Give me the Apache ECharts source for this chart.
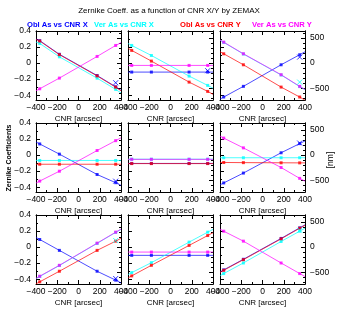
<!DOCTYPE html>
<html><head><meta charset="utf-8">
<script src="https://cdn.jsdelivr.net/npm/echarts@6/dist/echarts.min.js"></script>
<style>html,body{margin:0;padding:0;background:#fff}#c{width:338px;height:310px}</style>
</head><body><div id="c"></div>
<script>
// CNR positions: first and last are the panel edges where the fitted lines end
const cnr = [-400, -365, -180, 175, 350, 400];
const extraCnr = 350;
const xTicks = [-400, -200, 0, 200, 400];
const yTicks = [-0.4, -0.2, 0, 0.2, 0.4];
const yMinor = [-0.3, -0.1, 0.1, 0.3];
const nmTicks = [-500, 0, 500];
const nmMinor = [-700, -600, -400, -300, -200, -100, 100, 200, 300, 400, 600];
const legendNames = ['Obl As vs CNR X', 'Ver As vs CNR X', 'Obl As vs CNR Y', 'Ver As vs CNR Y'];

// Panel 1
const oblX1 = [0.300, 0.280, 0.110, -0.155, -0.295, -0.340];
const verX1 = [0.262, 0.245, 0.078, -0.188, -0.328, -0.372];
const oblY1 = [0.295, 0.275, 0.105, -0.160, -0.300, -0.345];
const verY1 = [-0.345, -0.320, -0.187, 0.083, 0.220, 0.255];
// Panel 2
const oblX2 = [-0.112, -0.112, -0.112, -0.112, -0.112, -0.112];
const verX2 = [0.244, 0.220, 0.095, -0.162, -0.278, -0.313];
const oblY2 = [0.183, 0.158, 0.025, -0.237, -0.353, -0.389];
const verY2 = [-0.029, -0.029, -0.029, -0.029, -0.029, -0.029];
// Panel 3
const oblX3 = [-0.449, -0.423, -0.290, -0.021, 0.104, 0.141];
const verX3 = [0.285, 0.258, 0.113, -0.148, -0.293, -0.332];
const oblY3 = [0.142, 0.116, -0.021, -0.299, -0.423, -0.462];
const verY3 = [0.288, 0.261, 0.116, -0.145, -0.290, -0.329];
// Panel 4
const oblX4 = [0.163, 0.139, 0.012, -0.242, -0.344, -0.378];
const verX4 = [-0.067, -0.067, -0.067, -0.067, -0.067, -0.067];
const oblY4 = [-0.114, -0.114, -0.114, -0.114, -0.114, -0.114];
const verY4 = [-0.349, -0.324, -0.201, 0.057, 0.180, 0.215];
// Panel 5
const oblX5 = [-0.104, -0.104, -0.104, -0.104, -0.104, -0.104];
const verX5 = [-0.051, -0.051, -0.051, -0.051, -0.051, -0.051];
const oblY5 = [-0.106, -0.106, -0.106, -0.106, -0.106, -0.106];
const verY5 = [-0.053, -0.053, -0.053, -0.053, -0.053, -0.053];
// Panel 6
const oblX6 = [-0.371, -0.347, -0.224, 0.029, 0.143, 0.177];
const verX6 = [-0.033, -0.033, -0.033, -0.033, -0.033, -0.033];
const oblY6 = [-0.092, -0.092, -0.094, -0.096, -0.097, -0.097];
const verY6 = [0.237, 0.212, 0.090, -0.155, -0.290, -0.325];
// Panel 7
const oblX7 = [0.120, 0.095, -0.041, -0.301, -0.412, -0.447];
const verX7 = [-0.393, -0.366, -0.230, 0.046, 0.183, 0.221];
const oblY7 = [-0.458, -0.433, -0.301, -0.041, 0.074, 0.109];
const verY7 = [-0.390, -0.363, -0.227, 0.049, 0.186, 0.224];
// Panel 8
const oblX8 = [-0.103, -0.103, -0.103, -0.103, -0.103, -0.103];
const verX8 = [-0.343, -0.318, -0.194, 0.062, 0.186, 0.221];
const oblY8 = [-0.384, -0.359, -0.227, 0.021, 0.144, 0.179];
const verY8 = [-0.062, -0.062, -0.062, -0.062, -0.062, -0.062];
// Panel 9
const oblX9 = [-0.310, -0.284, -0.152, 0.108, 0.240, 0.277];
const verX9 = [-0.356, -0.330, -0.198, 0.070, 0.198, 0.235];
const oblY9 = [-0.315, -0.289, -0.157, 0.103, 0.235, 0.272];
const verY9 = [0.224, 0.198, 0.074, -0.198, -0.330, -0.367];

// extra (x-marked) points at the last CNR position, per panel
const extraOblX = [-0.245, -0.095, 0.075, -0.325, null, 0.150, -0.392, null, null];
const extraVerX = [null, null, -0.237, null, null, null, 0.082, null, 0.210];

const panels = [
  [oblX1, verX1, oblY1, verY1], [oblX2, verX2, oblY2, verY2], [oblX3, verX3, oblY3, verY3],
  [oblX4, verX4, oblY4, verY4], [oblX5, verX5, oblY5, verY5], [oblX6, verX6, oblY6, verY6],
  [oblX7, verX7, oblY7, verY7], [oblX8, verX8, oblY8, verY8], [oblX9, verX9, oblY9, verY9]
];

const colors = ['#0000ff', '#00ffff', '#ff0000', '#ff00ff'];
const font = '"Liberation Sans", Arial, Helvetica, sans-serif';
const L = [36, 128, 220], T = [31, 123, 215], W = 85, H = 69;
const K = 1600, YMIN = -0.46, YMAX = 0.4;
const fmt = v => String(v).replace('-', '\u2212');

const grid = [], xAxis = [], yAxis = [], series = [];
for (let g = 0; g < 9; g++) {
  const r = Math.floor(g / 3), c = g % 3;
  grid.push({ left: L[c], top: T[r], width: W, height: H });
  const axl = { show: true, onZero: false, lineStyle: { color: '#000', width: 1 } };
  const xb = {
    type: 'value', gridIndex: g, min: -400, max: 400, interval: 200,
    axisLine: axl, splitLine: { show: false },
    axisTick: { inside: true, length: 4, lineStyle: { color: '#000' } },
    minorTick: { show: true, splitNumber: 2, length: 2, lineStyle: { color: '#000' } }
  };
  xAxis.push(Object.assign({}, xb, {
    position: 'bottom',
    axisLabel: { show: true, fontSize: 8.5, color: '#000', margin: 3, fontFamily: font,
      showMinLabel: true, showMaxLabel: true, formatter: fmt },
    name: 'CNR [arcsec]', nameLocation: 'middle', nameGap: 15,
    nameTextStyle: { fontSize: 8, color: '#000', fontFamily: font }
  }));
  xAxis.push(Object.assign({}, xb, { position: 'top', axisLabel: { show: false } }));

  const yb = { type: 'value', gridIndex: g, axisLine: axl, splitLine: { show: false } };
  yAxis.push(Object.assign({}, yb, {
    position: 'left', min: YMIN, max: YMAX,
    axisTick: { inside: true, length: 4, customValues: yTicks, lineStyle: { color: '#000' } },
    axisLabel: { show: c === 0, customValues: yTicks, fontSize: 8.5, color: '#000', margin: 5,
      fontFamily: font, formatter: v => fmt(+(+v).toFixed(1)) }
  }));
  yAxis.push(Object.assign({}, yb, {
    position: 'left', min: YMIN, max: YMAX,
    axisTick: { inside: true, length: 2, customValues: yMinor, lineStyle: { color: '#000' } },
    axisLabel: { show: false }
  }));
  yAxis.push(Object.assign({}, yb, {
    position: 'right', min: YMIN * K, max: YMAX * K,
    axisTick: { inside: true, length: 4, customValues: nmTicks, lineStyle: { color: '#000' } },
    axisLabel: { show: c === 2, customValues: nmTicks, fontSize: 8.5, color: '#000', margin: 5,
      fontFamily: font, formatter: fmt }
  }));
  yAxis.push(Object.assign({}, yb, {
    position: 'right', min: YMIN * K, max: YMAX * K,
    axisTick: { inside: true, length: 2, customValues: nmMinor, lineStyle: { color: '#000' } },
    axisLabel: { show: false }
  }));

  panels[g].forEach((arr, s) => {
    series.push({
      type: 'line', name: legendNames[s], xAxisIndex: 2 * g, yAxisIndex: 4 * g,
      data: cnr.map((x, i) => [x, arr[i]]), showSymbol: false, symbol: 'none',
      lineStyle: { width: 1, color: colors[s], opacity: 0.7 }, silent: true, z: 2
    });
  });
  panels[g].forEach((arr, s) => {
    series.push({
      type: 'scatter', name: legendNames[s], xAxisIndex: 2 * g, yAxisIndex: 4 * g,
      data: cnr.slice(1, 5).map((x, i) => [x, arr[i + 1]]), symbol: 'rect', symbolSize: 3,
      itemStyle: { color: colors[s] }, silent: true, z: 3
    });
  });
  [[extraOblX, 0], [extraVerX, 1]].forEach(([ex, s]) => {
    if (ex[g] === null) return;
    series.push({
      type: 'scatter', xAxisIndex: 2 * g, yAxisIndex: 4 * g,
      data: [[extraCnr, ex[g]]], symbol: 'path://M0,0L10,10M10,0L0,10', symbolSize: 5,
      itemStyle: { color: 'rgba(0,0,0,0)', borderColor: colors[s], borderWidth: 1 }, silent: true, z: 4
    });
  });
}

const txt = (x, y, text, color, size, extra, weight) => Object.assign({
  type: 'text', x: x, y: y, silent: true,
  style: { text: text, fill: color, fontSize: size, fontFamily: font, fontWeight: weight || 'normal',
    align: 'left', textAlign: 'left', verticalAlign: 'middle', textVerticalAlign: 'middle' }
}, extra || {});

const graphic = [
  txt(169, 11, 'Zernike Coeff. as a function of CNR X/Y by ZEMAX', '#000', 8),
  txt(27, 25, legendNames[0], colors[0], 7.6, null, 'bold'),
  txt(94, 25, legendNames[1], colors[1], 7.6, null, 'bold'),
  txt(180, 25, legendNames[2], colors[2], 7.6, null, 'bold'),
  txt(252, 25, legendNames[3], colors[3], 7.6, null, 'bold'),
  txt(9, 158, 'Zernike Coefficients', '#000', 7, { rotation: Math.PI / 2 }, 'bold'),
  txt(331, 160, '[nm]', '#000', 8.5, { rotation: Math.PI / 2 })
];
graphic[0].style.align = 'center'; graphic[0].style.textAlign = 'center';
graphic[5].style.align = 'center'; graphic[5].style.textAlign = 'center';
graphic[6].style.align = 'center'; graphic[6].style.textAlign = 'center';

const chart = echarts.init(document.getElementById('c'), null, { renderer: 'canvas' });
chart.setOption({
  animation: false, backgroundColor: '#fff',
  grid: grid, xAxis: xAxis, yAxis: yAxis, series: series, graphic: graphic
});
</script></body></html>
